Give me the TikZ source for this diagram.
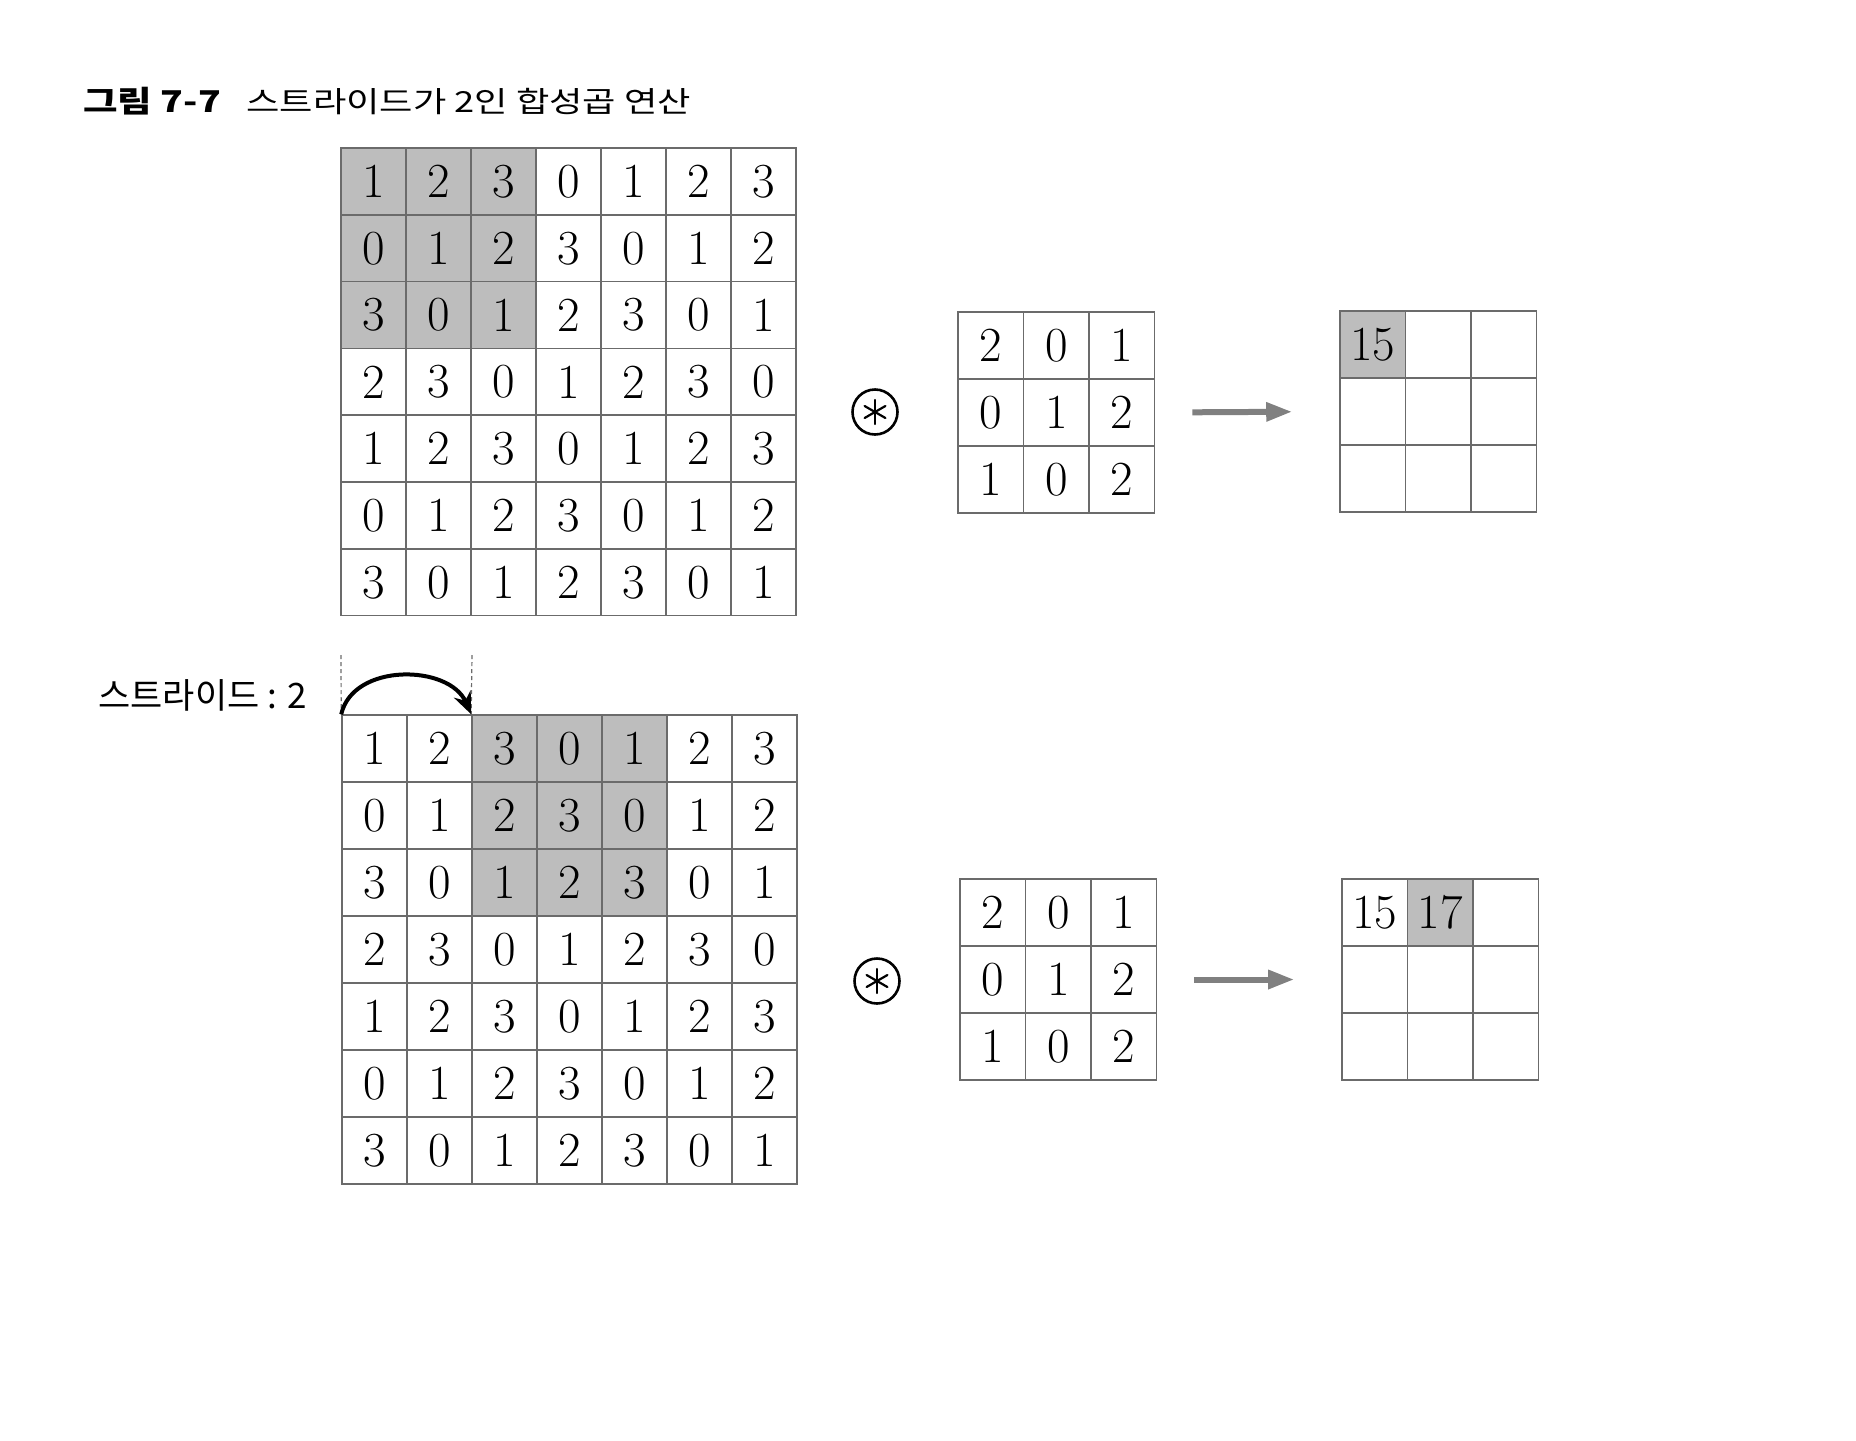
\documentclass[tikz,border=0pt]{standalone}
\usepackage{fontspec}
\newfontfamily\kr{Noto Sans CJK KR}
\newfontfamily\krw[FakeStretch=1.25]{Noto Sans CJK KR}
\usetikzlibrary{arrows.meta}
\definecolor{gridline}{gray}{0.42}
\definecolor{shade}{gray}{0.74}
\definecolor{arrowgray}{gray}{0.5}
\tikzset{
  cellbox/.style={draw=gridline, line width=0.8pt, minimum width=32.5pt, minimum height=33.4pt,
    inner sep=0pt, font=\fontsize{24.5}{24.5}\selectfont},
  shcell/.style={cellbox, fill=shade},
  kcell/.style={cellbox, minimum width=32.75pt, minimum height=33.5pt},
  kshcell/.style={kcell, fill=shade},
  opcircle/.style={circle, draw=black, line width=1.3pt, minimum size=22.5pt, inner sep=0pt},
  opspoke/.style={line width=1.1pt, line cap=round},
  garrow/.style={draw=arrowgray, line width=3pt, -{Triangle[length=13pt,width=9pt]}, shorten <=18.5pt, shorten >=23.5pt},
  stridearrow/.style={line width=2pt, -{Stealth[length=11pt,width=9pt]}},
  guide/.style={draw=gridline, line width=0.6pt, dash pattern=on 2pt off 1.5pt}
}
\begin{document}
\begin{tikzpicture}[x=0.5pt,y=-0.5pt]
\useasboundingbox (0,0) rectangle (1856,1440);

% title
\node[anchor=base west, inner sep=0pt, font=\krw\bfseries\fontsize{15}{15}\selectfont] (ttl1) at (83,112) {그림 7-7};
\node[anchor=base west, inner sep=0pt, font=\krw\fontsize{14.5}{14.5}\selectfont] (ttl2) at (246,112) {스트라이드가 2인 합성곱 연산};

% top input grid
\foreach \row [count=\r from 0] in {{1,2,3,0,1,2,3},{0,1,2,3,0,1,2},{3,0,1,2,3,0,1},{2,3,0,1,2,3,0},{1,2,3,0,1,2,3},{0,1,2,3,0,1,2},{3,0,1,2,3,0,1}}{
  \foreach \v [count=\c from 0] in \row {
    \def\sty{cellbox}
    \ifnum\r<3 \ifnum\c<3 \def\sty{shcell}\fi\fi
    \node[\sty] (t-\r-\c) at ({341+65*\c+32.5},{148+66.8*\r+33.4}) {\v};
  }
}

% bottom input grid
\foreach \row [count=\r from 0] in {{1,2,3,0,1,2,3},{0,1,2,3,0,1,2},{3,0,1,2,3,0,1},{2,3,0,1,2,3,0},{1,2,3,0,1,2,3},{0,1,2,3,0,1,2},{3,0,1,2,3,0,1}}{
  \foreach \v [count=\c from 0] in \row {
    \def\sty{cellbox}
    \ifnum\r<3 \ifnum\c>1 \ifnum\c<5 \def\sty{shcell}\fi\fi\fi
    \node[\sty] (b-\r-\c) at ({342+65*\c+32.5},{715+67*\r+33.5}) {\v};
  }
}

% kernels
\foreach \row [count=\r from 0] in {{2,0,1},{0,1,2},{1,0,2}}{
  \foreach \v [count=\c from 0] in \row {
    \node[kcell] (kt-\r-\c) at ({958+65.5*\c+32.75},{312+67*\r+33.5}) {\v};
    \node[kcell] (kb-\r-\c) at ({960+65.5*\c+32.75},{879+67*\r+33.5}) {\v};
  }
}

% outputs
\foreach \r in {0,1,2}{
  \foreach \c in {0,1,2}{
    \def\sty{kcell}
    \ifnum\r=0 \ifnum\c=0 \def\sty{kshcell}\fi\fi
    \node[\sty] (ot-\r-\c) at ({1340+65.5*\c+32.75},{311+67*\r+33.5}) {\ifnum\r=0 \ifnum\c=0 15\fi\fi};
  }
}
\foreach \r in {0,1,2}{
  \foreach \c in {0,1,2}{
    \def\sty{kcell}
    \ifnum\r=0 \ifnum\c=1 \def\sty{kshcell}\fi\fi
    \node[\sty] (ob-\r-\c) at ({1342+65.5*\c+32.75},{879+67*\r+33.5}) {\ifnum\r=0 \ifnum\c=0 15\fi\ifnum\c=1 17\fi\fi};
  }
}

% convolution operators
\node[opcircle] (op1) at (875,412) {};
\node[opcircle] (op2) at (877,981) {};
\foreach \a in {30,90,150,210,270,330}{
  \draw[opspoke] (op1.center) -- ++(\a:12);
  \draw[opspoke] (op2.center) -- ++(\a:12);
}

% arrows kernel -> output
\draw[garrow] (kt-1-2.east) -- (ot-1-0.west);
\draw[garrow] (kb-1-2.east) -- (ob-1-0.west);

% stride annotation
\node[anchor=base west, inner sep=0pt, font=\kr\fontsize{17.5}{17.5}\selectfont] (stride) at (98,708) {스트라이드 : 2};
\coordinate (s1) at (b-0-0.north west);
\coordinate (s2) at (b-0-2.north west);
\coordinate (g1) at (341,655);
\coordinate (g2) at (472,655);
\draw[guide] (g1) -- (s1);
\draw[guide] (g2) -- (s2);
\draw[stridearrow] (s1) .. controls +(12,-52) and +(-22,-50) .. (s2);
\end{tikzpicture}
\end{document}
